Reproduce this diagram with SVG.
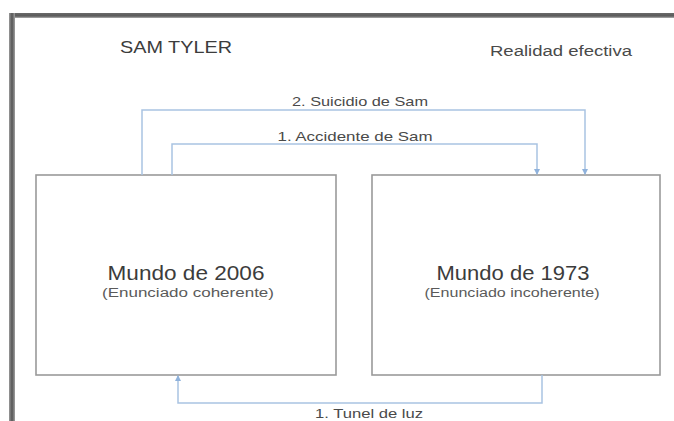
<svg xmlns="http://www.w3.org/2000/svg" width="674" height="421" viewBox="0 0 674 421">
<defs>
<linearGradient id="gTop" x1="0" y1="0" x2="0" y2="1">
<stop offset="0" stop-color="#6a6a6a"/><stop offset="0.6" stop-color="#5a5a5a"/><stop offset="1" stop-color="#b0b0b0"/>
</linearGradient>
<linearGradient id="gLeft" x1="0" y1="0" x2="1" y2="0">
<stop offset="0" stop-color="#9a9a9a"/><stop offset="0.5" stop-color="#555"/><stop offset="1" stop-color="#a0a0a0"/>
</linearGradient>
<marker id="arr" viewBox="0 0 6 6" refX="5" refY="3" markerWidth="6" markerHeight="6" orient="auto" markerUnits="userSpaceOnUse">
<path d="M0,0 L6,3 L0,6 z" fill="#8fb2dc"/>
</marker>
<style>
.box{fill:#fff;stroke:#9a9a9a;stroke-width:1.6}
.conn{fill:none;stroke:#a9c3e2;stroke-width:1.5}
.t{font-family:"Liberation Sans",Arial,sans-serif;fill:#444;text-anchor:middle}
.title{font-size:21px;fill:#3c3c3c}
.sub{font-size:12.5px;fill:#5a5a5a}
.lbl{font-size:13px;fill:#4a4a4a}
</style>
</defs>
<rect width="674" height="421" fill="#fff"/>
<rect x="10" y="13" width="664" height="5" fill="url(#gTop)"/>
<rect x="9" y="13" width="6" height="408" fill="url(#gLeft)"/>
<text class="t" x="176" y="53" style="font-size:17px;fill:#3c3c3c" textLength="112" lengthAdjust="spacingAndGlyphs">SAM TYLER</text>
<text class="t" x="561" y="56" style="font-size:14px;fill:#4a4a4a" textLength="142" lengthAdjust="spacingAndGlyphs">Realidad efectiva</text>
<g id="node-2006">
<rect class="box" x="36" y="175" width="300" height="200"/>
<text class="t title" x="186" y="280" textLength="157" lengthAdjust="spacingAndGlyphs">Mundo de 2006</text>
<text class="t sub" x="188" y="297" textLength="172" lengthAdjust="spacingAndGlyphs">(Enunciado coherente)</text>
</g>
<g id="node-1973">
<rect class="box" x="372" y="175" width="288" height="200"/>
<text class="t title" x="513" y="280" textLength="153" lengthAdjust="spacingAndGlyphs">Mundo de 1973</text>
<text class="t sub" x="512" y="297" textLength="175" lengthAdjust="spacingAndGlyphs">(Enunciado incoherente)</text>
</g>
<g id="connectors">
<path class="conn" d="M142,175 V110 H585 V174" marker-end="url(#arr)"/>
<path class="conn" d="M172,175 V144 H537 V174" marker-end="url(#arr)"/>
<path class="conn" d="M542,375 V403 H178 V376" marker-end="url(#arr)"/>
<text class="t lbl" x="360" y="106" textLength="136" lengthAdjust="spacingAndGlyphs">2. Suicidio de Sam</text>
<text class="t lbl" x="355" y="141" textLength="155" lengthAdjust="spacingAndGlyphs">1. Accidente de Sam</text>
<text class="t lbl" x="369" y="418" textLength="108" lengthAdjust="spacingAndGlyphs">1. Tunel de luz</text>
</g>
</svg>
